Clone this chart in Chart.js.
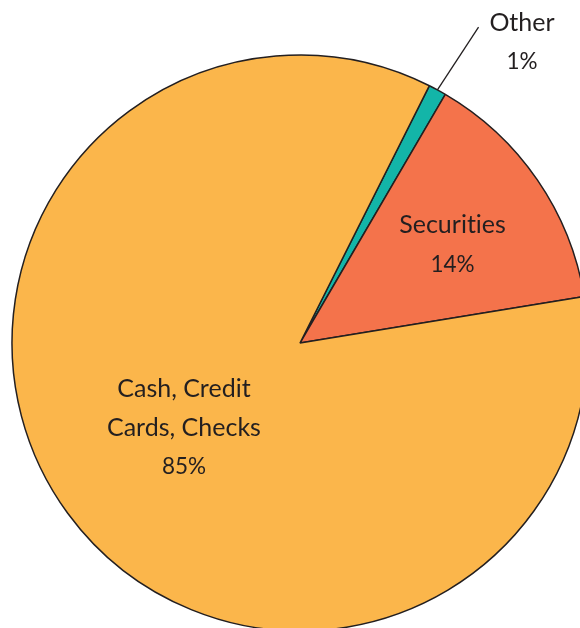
<!DOCTYPE html>
<html>
<head>
<meta charset="utf-8">
<script src="https://cdn.jsdelivr.net/npm/chart.js@4.4.0/dist/chart.umd.min.js"></script>
<style>
  html, body { margin: 0; padding: 0; background: #fff; overflow: hidden; width: 580px; height: 628px; }
  #wrap { position: absolute; left: 0; top: 0; width: 600px; height: 686px; }
</style>
</head>
<body>
<div id="wrap"><canvas id="pieChart" width="600" height="686"></canvas></div>
<script>
// order matches the picture going clockwise from the "Other" sliver
const categories = ["Other", "Securities", "Cash, Credit Cards, Checks"];
// \u200C keeps Lato from joining "ti" into a ligature
const labelLines = [["Other"], ["Securit\u200Cies"], ["Cash, Credit", "Cards, Checks"]];
const shares = [1, 14, 85];
const colors = ["#13b5a8", "#f4734b", "#fbb64b"];

const textColor = "#231f20";

// draws slice names and percentages on (or next to) each slice
const sliceLabels = {
  id: "sliceLabels",
  afterDatasetsDraw(chart) {
    const ctx = chart.ctx;
    const arcs = chart.getDatasetMeta(0).data;
    ctx.save();
    ctx.fillStyle = textColor;
    ctx.textAlign = "center";
    ctx.textBaseline = "middle";
    arcs.forEach(function (arc, i) {
      const mid = (arc.startAngle + arc.endAngle) / 2;
      const r = arc.outerRadius;
      let x, y;
      if (i === 0) {
        // leader line out of the thin slice
        ctx.strokeStyle = textColor;
        ctx.lineWidth = 1.3;
        ctx.beginPath();
        ctx.moveTo(arc.x + Math.cos(mid) * r, arc.y + Math.sin(mid) * r);
        ctx.lineTo(arc.x + Math.cos(mid + 0.017) * r * 1.26, arc.y + Math.sin(mid + 0.017) * r * 1.26);
        ctx.stroke();
        x = 522;
        y = 42;
      } else if (i === 1) {
        x = arc.x + Math.cos(mid + 0.03) * r * 0.63;
        y = arc.y + Math.sin(mid + 0.03) * r * 0.63;
      } else {
        x = arc.x + Math.cos(mid) * r * 0.5;
        y = arc.y + Math.sin(mid) * r * 0.5;
      }
      const lines = labelLines[i];
      const gap = 39;
      const top = y - (lines.length * gap) / 2;
      ctx.font = "25px Lato";
      lines.forEach(function (line, k) {
        ctx.fillText(line, x, top + k * gap);
      });
      ctx.font = "22.5px Lato";
      ctx.fillText(shares[i] + "%", x, top + lines.length * gap);
    });
    ctx.restore();
  },
};

new Chart(document.getElementById("pieChart"), {
  type: "pie",
  data: {
    labels: categories,
    datasets: [
      {
        data: shares,
        backgroundColor: colors,
        borderColor: textColor,
        borderWidth: 1.5,
      },
    ],
  },
  options: {
    responsive: false,
    animation: false,
    rotation: 26.7,
    radius: 288,
    layout: { padding: 0 },
    plugins: {
      legend: { display: false },
      tooltip: { enabled: false },
    },
  },
  plugins: [sliceLabels],
});
</script>
</body>
</html>
